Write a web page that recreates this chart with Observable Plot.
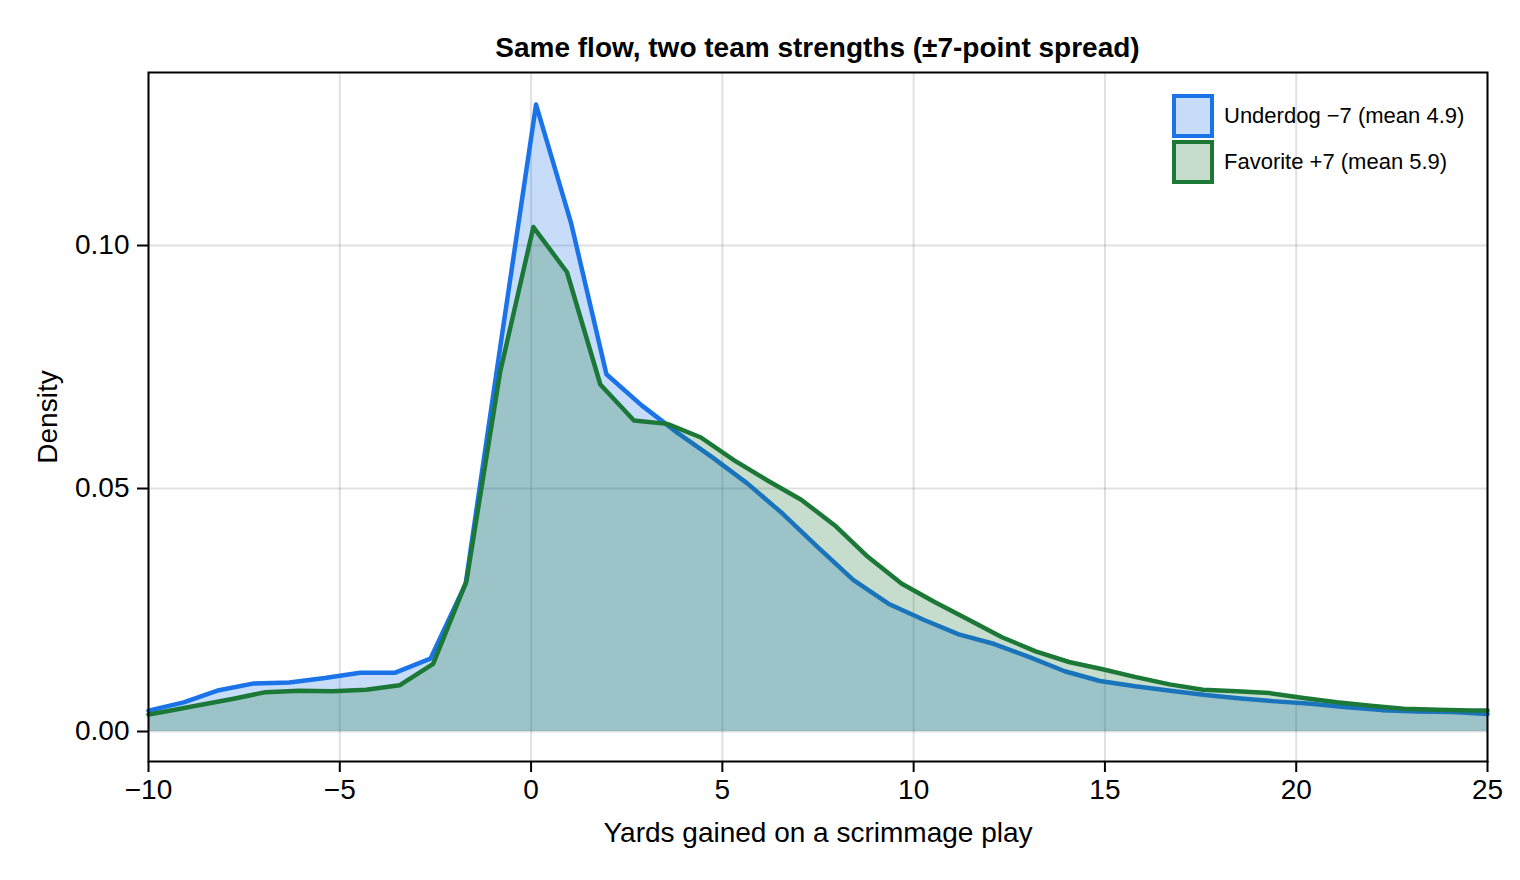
<!DOCTYPE html>
<html>
<head>
<meta charset="utf-8">
<script src="https://cdn.jsdelivr.net/npm/d3@7"></script>
<script src="https://cdn.jsdelivr.net/npm/@observablehq/plot@0.6"></script>
<style>
  body { margin: 0; background: #fff; font-family: "Liberation Sans", Arial, Helvetica, sans-serif; }
  #wrap { position: relative; width: 1520px; height: 880px; overflow: hidden; }
  #title { position: absolute; left: 148px; width: 1339px; top: 32px; line-height: 32px; text-align: center; font-weight: bold; font-size: 28px; color: #000; }
  #legend { position: absolute; left: 1172px; top: 93px; }
  .item { display: flex; align-items: center; height: 46px; }
  .sw { width: 34px; height: 36px; border: 4px solid; box-sizing: content-box; margin-right: 10px; }
  .lab { font-size: 22px; color: #000; white-space: nowrap; }
</style>
</head>
<body>
<div id="wrap">
  <div id="chart"></div>
  <div id="title">Same flow, two team strengths (±7-point spread)</div>
  <div id="legend"></div>
</div>
<script>
// ---- data ----
const seriesNames = ["Underdog −7 (mean 4.9)", "Favorite +7 (mean 5.9)"];
const seriesColors = ["#1a73e8", "#1b7837"];

const underdogX = [-10, -9.08, -8.16, -7.24, -6.32, -5.39, -4.47, -3.55, -2.63, -1.71,
  -0.79, 0.13, 1.05, 1.97, 2.89, 3.82, 4.74, 5.66, 6.58, 7.50,
  8.42, 9.34, 10.26, 11.18, 12.11, 13.03, 13.95, 14.87, 15.79, 16.71,
  17.63, 18.55, 19.47, 20.39, 21.32, 22.24, 23.16, 24.08, 25];
const underdogY = [0.0043, 0.0060, 0.0085, 0.0099, 0.0101, 0.0110, 0.0121, 0.0121, 0.0150, 0.0304,
  0.0800, 0.1290, 0.1045, 0.0735, 0.0671, 0.0615, 0.0564, 0.0510, 0.0448, 0.0379,
  0.0312, 0.0263, 0.0230, 0.0200, 0.0180, 0.0153, 0.0124, 0.0104, 0.0093, 0.0084,
  0.0075, 0.0068, 0.0062, 0.0057, 0.0050, 0.0044, 0.0041, 0.0040, 0.0036];

const favoriteX = [-10, -9.56, -8.69, -7.81, -6.94, -6.06, -5.19, -4.31, -3.44, -2.56,
  -1.69, -0.81, 0.06, 0.94, 1.81, 2.69, 3.56, 4.44, 5.31, 6.19,
  7.06, 7.94, 8.81, 9.69, 10.56, 11.44, 12.31, 13.19, 14.06, 14.94,
  15.81, 16.69, 17.56, 18.44, 19.31, 20.19, 21.06, 21.94, 22.81, 23.69,
  24.56, 25];
const favoriteY = [0.0035, 0.0041, 0.0054, 0.0067, 0.0081, 0.0084, 0.0083, 0.0086, 0.0095, 0.0139,
  0.0309, 0.0739, 0.1038, 0.0945, 0.0714, 0.0640, 0.0633, 0.0605, 0.0558, 0.0516,
  0.0477, 0.0424, 0.0359, 0.0304, 0.0266, 0.0230, 0.0194, 0.0165, 0.0143, 0.0128,
  0.0112, 0.0097, 0.0086, 0.0083, 0.0079, 0.0069, 0.0060, 0.0053, 0.0047, 0.0045,
  0.0043, 0.0043];

const xTicks = [-10, -5, 0, 5, 10, 15, 20, 25];
const yTicks = [0, 0.05, 0.10];
const xDomain = [-10, 25];
const yDomain = [-0.00617, 0.1356];

// ---- build tables ----
const underdog = underdogX.map((x, i) => ({x, y: underdogY[i]}));
const favorite = favoriteX.map((x, i) => ({x, y: favoriteY[i]}));

const FONT = "'Liberation Sans', Arial, Helvetica, sans-serif";
const grid = {stroke: "black", strokeOpacity: 0.12, strokeWidth: 2};

const chart = Plot.plot({
  width: 1520,
  height: 880,
  marginLeft: 148,
  marginRight: 33,
  marginTop: 72,
  marginBottom: 119,
  style: {fontFamily: FONT, fontSize: "28px", color: "black", background: "white", overflow: "visible"},
  x: {domain: xDomain},
  y: {domain: yDomain},
  marks: [
    Plot.gridX(xTicks, grid),
    Plot.gridY(yTicks, grid),
    Plot.areaY(underdog, {x: "x", y: "y", fill: seriesColors[0], fillOpacity: 0.25}),
    Plot.lineY(underdog, {x: "x", y: "y", stroke: seriesColors[0], strokeWidth: 4.5}),
    Plot.areaY(favorite, {x: "x", y: "y", fill: seriesColors[1], fillOpacity: 0.25}),
    Plot.lineY(favorite, {x: "x", y: "y", stroke: seriesColors[1], strokeWidth: 4.5}),
    Plot.frame({stroke: "black", strokeWidth: 2}),
    Plot.axisX(xTicks, {
      tickSize: 11, tickPadding: 7, strokeWidth: 2, fontSize: 28,
      tickFormat: d3.format("d"),
      label: "Yards gained on a scrimmage play", labelAnchor: "center", labelArrow: "none", labelOffset: 80
    }),
    Plot.axisY(yTicks, {
      tickSize: 11, tickPadding: 8, strokeWidth: 2, fontSize: 28,
      tickFormat: d3.format(".2f"),
      label: "Density", labelAnchor: "center", labelArrow: "none", labelOffset: 111
    })
  ]
});
document.getElementById("chart").append(chart);

// ---- legend ----
const legend = document.getElementById("legend");
seriesNames.forEach((name, i) => {
  const item = document.createElement("div");
  item.className = "item";
  const sw = document.createElement("div");
  sw.className = "sw";
  sw.style.borderColor = seriesColors[i];
  const c = d3.color(seriesColors[i]);
  sw.style.background = `rgba(${c.r},${c.g},${c.b},0.25)`;
  const lab = document.createElement("span");
  lab.className = "lab";
  lab.textContent = name;
  item.append(sw, lab);
  legend.append(item);
});
</script>
</body>
</html>
